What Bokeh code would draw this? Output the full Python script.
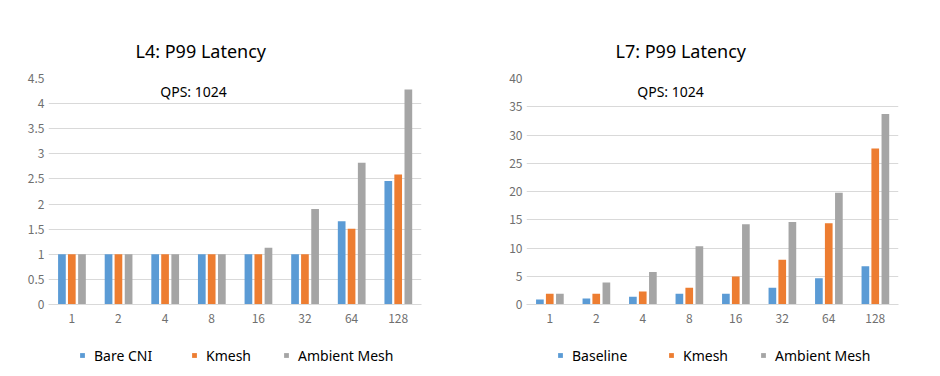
from bokeh.plotting import figure
from bokeh.layouts import row, column
from bokeh.models import ColumnDataSource, FactorRange, FixedTicker, Label, Legend, LegendItem, Range1d
from bokeh.transform import dodge
from bokeh.embed import file_html
from bokeh.resources import INLINE

categories = ["1", "2", "4", "8", "16", "32", "64", "128"]

l4_title = "L4: P99 Latency"
l4_names = ["Bare CNI", "Kmesh", "Ambient Mesh"]
l4_bare = [1, 1, 1, 1, 1, 1, 1.66, 2.46]
l4_kmesh = [1, 1, 1, 1, 1, 1, 1.51, 2.59]
l4_ambient = [1, 1, 1, 1, 1.13, 1.90, 2.82, 4.28]
l4_ticks = [0, 0.5, 1, 1.5, 2, 2.5, 3, 3.5, 4, 4.5]

l7_title = "L7: P99 Latency"
l7_names = ["Baseline", "Kmesh", "Ambient Mesh"]
l7_base = [0.9, 1.06, 1.36, 1.9, 1.9, 2.95, 4.66, 6.78]
l7_kmesh = [1.9, 1.9, 2.3, 2.95, 4.96, 7.9, 14.4, 27.6]
l7_ambient = [1.9, 3.9, 5.75, 10.3, 14.2, 14.6, 19.8, 33.7]
l7_ticks = [0, 5, 10, 15, 20, 25, 30, 35, 40]

qps_text = "QPS: 1024"
colors = ["#5B9BD5", "#ED7D31", "#A5A5A5"]
FONT = "Noto Sans"


def make_chart(title, series, ticks, width, bl, br, title_off, qps_x):
    src = ColumnDataSource(dict(cat=categories, a=series[0], b=series[1], c=series[2]))
    p = figure(x_range=FactorRange(*categories), y_range=Range1d(ticks[0], ticks[-1]),
               width=width, height=330, output_backend="svg", toolbar_location=None,
               min_border_left=bl, min_border_right=br, min_border_top=78, min_border_bottom=26,
               title=title)
    p.outline_line_color = None
    p.background_fill_color = "white"
    p.border_fill_color = "white"
    p.title.text_font = FONT
    p.title.text_font_size = "18px"
    p.title.text_font_style = "normal"
    p.title.text_color = "#000000"
    p.title.align = "left"
    p.title.offset = title_off
    p.title.standoff = 31
    offsets = [-0.212, 0.0, 0.218]
    for key, off, col in zip(["a", "b", "c"], offsets, colors):
        p.vbar(x=dodge("cat", off, range=p.x_range), top=key, width=0.165, bottom=0,
               source=src, fill_color=col, line_color=None)
    p.xgrid.grid_line_color = None
    p.ygrid.grid_line_color = "#D9D9D9"
    p.ygrid.ticker = FixedTicker(ticks=ticks)
    p.yaxis.ticker = FixedTicker(ticks=ticks)
    p.yaxis.major_label_overrides = {t: f"{t:g}" for t in ticks}
    p.yaxis.axis_line_color = None
    p.yaxis.major_tick_line_color = None
    p.yaxis.minor_tick_line_color = None
    p.yaxis.major_tick_out = 0
    p.yaxis.major_label_standoff = 4
    p.xaxis.axis_line_color = "#D9D9D9"
    p.xaxis.major_tick_line_color = None
    p.xaxis.major_tick_out = 0
    p.xaxis.major_label_standoff = 9
    for ax in (p.xaxis, p.yaxis):
        ax.major_label_text_font = "Noto Sans CJK SC"
        ax.major_label_text_font_size = "12px"
        ax.major_label_text_color = "#6F6F6F"

    p.add_layout(Label(x=qps_x, y=213, x_units="screen", y_units="screen", text=qps_text,
                       text_font=FONT, text_font_size="14px", text_color="#000000",
                       text_align="center", text_baseline="middle"))
    return p


def make_legend(names, width, xs):
    lf = figure(width=width, height=40, output_backend="svg", toolbar_location=None,
                min_border=0, x_range=Range1d(0, 1), y_range=Range1d(0, 1))
    lf.axis.visible = False
    lf.grid.visible = False
    lf.outline_line_color = None
    # legend proxies, placed outside the visible range
    proxy = ColumnDataSource(dict(x=[5], top=[1]))
    for n, col, lx in zip(names, colors, xs):
        r = lf.vbar(x="x", top="top", width=0.1, source=proxy, fill_color=col, line_color=None)
        legend = Legend(items=[LegendItem(label=n, renderers=[r])],
                        orientation="horizontal", location=(lx, 5),
                        glyph_width=6, glyph_height=6, label_standoff=9, spacing=0,
                        padding=0, margin=0, border_line_color=None, background_fill_alpha=0,
                        label_text_font=FONT, label_text_font_size="14px",
                        label_text_color="#000000", label_height=20)
        lf.add_layout(legend, "center")
    return lf


p1 = make_chart(l4_title, [l4_bare, l4_kmesh, l4_ambient], l4_ticks, 470, 48, 49, 87, 145)
p2 = make_chart(l7_title, [l7_base, l7_kmesh, l7_ambient], l7_ticks, 462, 56, 34, 89, 144)
g1 = make_legend(l4_names, 470, [79, 191, 283])
g2 = make_legend(l7_names, 462, [87, 198, 290])

p = column(row(p1, p2, spacing=0), row(g1, g2, spacing=0), spacing=0)
open("out.html", "w").write(file_html(p, INLINE))
